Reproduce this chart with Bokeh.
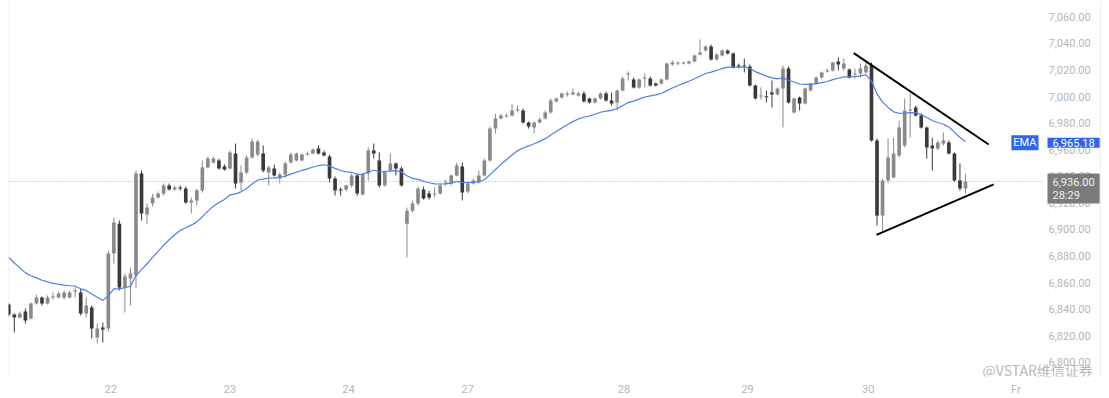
import numpy as np
from bokeh.plotting import figure
from bokeh.models import (Range1d, LinearAxis, FixedTicker, NumeralTickFormatter,
                          Span, Label, ColumnDataSource)
from bokeh.embed import file_html
from bokeh.resources import INLINE

# ---------------- data (hourly candles) ----------------
opens = [6843.4, 6835.9, 6833.7, 6838.2, 6832.9, 6844.2, 6848.7, 6844.2, 6848.7, 6848.7,
         6848.7, 6848.7, 6853.2, 6852.5, 6836.7, 6841.2, 6818.6, 6826.1, 6825.4, 6881.8,
         6904.3, 6856.2, 6863.0, 6865.3, 6942.0, 6911.1, 6919.4, 6923.9, 6926.9, 6933.0,
         6930.0, 6931.5, 6930.7, 6920.2, 6921.7, 6929.2, 6946.5, 6950.3, 6951.8, 6947.3,
         6945.8, 6957.1, 6935.2, 6942.8, 6954.1, 6956.3, 6957.1, 6942.8, 6945.8, 6938.2,
         6941.3, 6950.3, 6951.8, 6951.8, 6956.3, 6957.1, 6960.9, 6957.9, 6954.8, 6938.2,
         6930.0, 6930.0, 6933.0, 6940.5, 6926.2, 6942.0, 6959.4, 6951.8, 6933.0, 6944.3,
         6949.6, 6945.8, 6904.3, 6914.1, 6919.4, 6930.0, 6926.9, 6926.2, 6926.9, 6934.5,
         6934.5, 6940.5, 6947.3, 6928.5, 6934.5, 6935.2, 6940.5, 6951.8, 6975.9, 6983.4,
         6984.9, 6985.7, 6989.5, 6989.5, 6980.4, 6976.7, 6980.4, 6983.4, 6988.0, 6996.2,
         6999.2, 7001.5, 7001.5, 7000.8, 7002.3, 6998.5, 6995.5, 6998.5, 7002.3, 6997.0,
         6995.5, 7004.5, 7016.5, 7012.8, 7006.8, 7013.5, 7013.5, 7009.8, 7009.8, 7012.8,
         7024.1, 7024.8, 7024.8, 7024.8, 7026.3, 7031.6, 7034.6, 7037.6, 7027.9, 7030.9,
         7034.6, 7032.4, 7023.3, 7023.3, 7022.6, 7008.3, 7000.0, 7000.0, 7003.0, 7001.5,
         7006.0, 7021.1, 6988.0, 6999.2, 6994.7, 7004.5, 7009.8, 7014.3, 7018.8, 7019.6,
         7026.3, 7021.1, 7020.3, 7016.5, 7017.3, 7018.1, 7023.3, 6966.9, 6910.4, 6936.7,
         6939.0, 6955.6, 6963.1, 6989.5, 6991.7, 6985.7, 6976.7, 6963.1, 6960.9, 6964.6,
         6965.4, 6957.1, 6936.7, 6930.7]
highs = [6844.2, 6836.7, 6838.2, 6840.4, 6844.9, 6850.9, 6849.5, 6850.2, 6852.5, 6853.2,
         6854.0, 6854.0, 6856.2, 6855.5, 6848.7, 6842.7, 6829.1, 6829.9, 6884.1, 6908.9,
         6906.6, 6866.8, 6871.3, 6944.3, 6944.3, 6919.4, 6926.9, 6928.5, 6934.5, 6934.5,
         6933.0, 6933.0, 6932.2, 6923.9, 6930.7, 6951.8, 6954.8, 6954.8, 6953.3, 6948.8,
         6959.4, 6964.6, 6948.1, 6955.6, 6968.4, 6967.6, 6963.1, 6948.1, 6948.8, 6942.8,
         6951.1, 6957.9, 6957.9, 6957.1, 6958.6, 6960.9, 6963.1, 6959.4, 6956.3, 6939.8,
         6931.5, 6933.7, 6942.0, 6942.0, 6942.8, 6961.6, 6964.6, 6957.9, 6944.3, 6957.1,
         6950.3, 6947.3, 6916.4, 6921.7, 6932.2, 6932.2, 6929.2, 6931.5, 6934.5, 6937.5,
         6941.3, 6950.3, 6950.3, 6936.0, 6938.2, 6944.3, 6953.3, 6977.4, 6987.2, 6987.2,
         6987.2, 6994.7, 6993.2, 6991.0, 6981.2, 6981.2, 6984.2, 6989.5, 6998.5, 6999.2,
         7003.0, 7003.8, 7006.0, 7003.8, 7003.8, 6999.2, 6999.2, 7003.0, 7003.8, 7003.0,
         7005.3, 7015.0, 7018.8, 7014.3, 7013.5, 7017.3, 7015.0, 7010.5, 7013.5, 7025.6,
         7027.1, 7026.3, 7026.3, 7027.1, 7031.6, 7042.9, 7038.4, 7039.1, 7032.4, 7035.4,
         7035.4, 7033.1, 7024.8, 7028.6, 7024.1, 7009.0, 7006.8, 7004.5, 7012.0, 7006.8,
         7023.3, 7022.6, 6999.2, 7000.0, 7006.8, 7010.5, 7015.0, 7018.8, 7021.1, 7026.3,
         7029.4, 7028.6, 7021.1, 7021.1, 7024.8, 7025.6, 7025.6, 6968.4, 6938.2, 6968.4,
         6969.1, 6981.9, 6998.5, 7002.3, 6993.2, 6987.2, 6977.4, 6969.1, 6966.9, 6972.9,
         6966.9, 6957.9, 6949.6, 6942.0]
lows = [6834.4, 6822.4, 6832.9, 6829.1, 6832.2, 6843.4, 6842.7, 6843.4, 6847.2, 6848.0,
        6847.2, 6848.0, 6848.7, 6835.2, 6833.7, 6817.9, 6814.1, 6814.9, 6823.1, 6874.3,
        6854.0, 6837.4, 6842.7, 6855.5, 6906.6, 6904.3, 6917.1, 6923.2, 6925.4, 6929.2,
        6929.2, 6929.2, 6919.4, 6911.9, 6917.9, 6927.7, 6945.8, 6949.6, 6945.0, 6944.3,
        6945.0, 6930.7, 6929.2, 6941.3, 6953.3, 6954.8, 6942.8, 6933.0, 6939.8, 6934.5,
        6939.0, 6949.6, 6951.1, 6951.1, 6955.6, 6956.3, 6956.3, 6954.8, 6935.2, 6925.4,
        6925.4, 6928.5, 6931.5, 6925.4, 6925.4, 6936.7, 6953.3, 6931.5, 6932.2, 6942.8,
        6940.5, 6932.2, 6878.8, 6912.6, 6917.9, 6922.4, 6922.4, 6923.9, 6926.2, 6933.0,
        6933.0, 6939.8, 6921.7, 6926.9, 6933.7, 6934.5, 6939.8, 6951.1, 6972.1, 6982.7,
        6984.2, 6984.9, 6988.0, 6979.7, 6975.9, 6972.1, 6979.7, 6982.7, 6987.2, 6995.5,
        6998.5, 7000.0, 7000.8, 7000.0, 6995.5, 6994.7, 6994.7, 6997.7, 6996.2, 6993.2,
        6989.5, 7003.8, 7012.0, 7006.0, 7006.0, 7006.8, 7007.5, 7007.5, 7009.0, 7012.0,
        7023.3, 7023.3, 7024.1, 7024.1, 7025.6, 7030.9, 7033.9, 7027.1, 7027.1, 7030.1,
        7031.6, 7021.1, 7021.1, 7018.1, 7007.5, 6997.7, 6997.7, 6995.5, 6991.7, 7000.8,
        6976.7, 6994.7, 6987.2, 6989.5, 6994.0, 7003.8, 7009.0, 7013.5, 7018.1, 7018.8,
        7019.6, 7019.6, 7013.5, 7013.5, 7014.3, 7017.3, 6966.1, 6902.8, 6899.1, 6935.2,
        6938.2, 6954.1, 6961.6, 6969.1, 6984.9, 6975.9, 6953.3, 6944.3, 6959.4, 6963.1,
        6956.3, 6936.0, 6929.2, 6926.9]
closes = [6835.9, 6833.7, 6836.7, 6831.4, 6844.2, 6848.7, 6844.2, 6848.7, 6849.5, 6851.7,
          6852.5, 6852.5, 6854.0, 6836.7, 6842.7, 6825.4, 6825.4, 6824.6, 6881.8, 6905.1,
          6856.2, 6864.5, 6866.8, 6942.0, 6911.9, 6916.4, 6923.9, 6926.9, 6933.0, 6930.0,
          6931.5, 6930.7, 6920.2, 6921.7, 6929.2, 6946.5, 6953.3, 6953.3, 6945.8, 6945.0,
          6957.9, 6934.5, 6942.8, 6954.1, 6966.1, 6966.1, 6944.3, 6946.5, 6940.5, 6941.3,
          6949.6, 6956.3, 6957.1, 6956.3, 6957.1, 6960.1, 6957.1, 6955.6, 6938.2, 6929.2,
          6929.2, 6933.0, 6940.5, 6926.9, 6941.3, 6959.4, 6957.1, 6933.0, 6943.5, 6949.6,
          6945.8, 6933.0, 6914.1, 6919.4, 6930.7, 6923.2, 6923.9, 6926.9, 6933.0, 6935.2,
          6940.5, 6948.1, 6927.7, 6934.5, 6936.7, 6940.5, 6951.8, 6975.9, 6983.4, 6985.7,
          6985.7, 6989.5, 6990.2, 6980.4, 6977.4, 6980.4, 6982.7, 6988.0, 6997.0, 6998.5,
          7002.3, 7001.9, 7003.0, 7002.3, 6996.2, 6995.5, 6998.5, 7002.3, 6997.0, 6994.7,
          7004.5, 7013.5, 7017.3, 7006.8, 7012.8, 7014.3, 7008.3, 7008.3, 7012.8, 7024.8,
          7025.6, 7025.6, 7025.6, 7026.3, 7030.9, 7033.1, 7037.6, 7027.9, 7031.6, 7034.6,
          7032.4, 7021.8, 7022.6, 7022.6, 7008.3, 6998.5, 7000.8, 6999.6, 7001.5, 7006.0,
          7021.1, 6995.5, 6998.5, 6994.7, 7006.0, 7009.8, 7014.3, 7018.1, 7019.6, 7025.6,
          7024.1, 7024.8, 7014.3, 7017.3, 7021.1, 7023.3, 6966.9, 6910.4, 6936.7, 6954.1,
          6957.1, 6976.7, 6989.5, 6990.2, 6985.7, 6976.7, 6961.6, 6960.9, 6965.4, 6966.9,
          6957.1, 6936.7, 6930.7, 6936.0]

day_ticks = [18.44, 40.0, 61.43, 82.98, 111.25, 133.6, 155.4, 182.1]
day_labels = ["22", "23", "24", "27", "28", "29", "30", "Fr"]
price_ticks = [6800, 6820, 6840, 6860, 6880, 6900, 6920, 6940, 6960, 6980, 7000, 7020, 7040, 7060]

ema_period = 20
ema_seed = 6883.5
ema_last_label = 6965.18
last_price = 6936.00
countdown = "28:29"

# triangle trend lines (bar index, price)
upper_x = [152.8, 177.2]
upper_y = [7032.6, 6963.9]
lower_x = [156.9, 178.1]
lower_y = [6895.9, 6933.8]

# ---------------- derived ----------------
n = len(closes)
xs = np.arange(n)
o = np.array(opens); c = np.array(closes)
alpha = 2.0 / (ema_period + 1)
ema = []
e = ema_seed
for v in closes:
    e = e + alpha * (v - e)
    ema.append(e)

UP = "#8a8a8a"
DOWN = "#3a3a3a"
colors = [UP if cc >= oo else DOWN for oo, cc in zip(opens, closes)]
top = np.maximum(o, c)
bot = np.minimum(o, c)
mid = (top + bot) / 2
small = (top - bot) < 0.7
top = np.where(small, mid + 0.35, top)
bot = np.where(small, mid - 0.35, bot)

src = ColumnDataSource(dict(x=xs, high=highs, low=lows, top=top, bot=bot, color=colors))

# layout: frame spans x 8..1102 px, y 0..376 px; price scale column starts at 1041 px
LEFT, RIGHT_B, BOTTOM_B = 8, 7, 22
FRAME_W = 1109 - LEFT - RIGHT_B
BAR_PX = 5.53
X0 = -0.054
X1 = X0 + FRAME_W / BAR_PX
XA = X0 + (1041 - LEFT) / BAR_PX      # where the price scale column begins
XB = X0 + (1100 - LEFT) / BAR_PX      # faint right border
Y0, Y1 = 6789.25, 7072.26

p = figure(width=1109, height=398, output_backend="svg", toolbar_location=None,
           x_range=Range1d(X0, X1), y_range=Range1d(Y0, Y1),
           min_border_left=LEFT, min_border_right=RIGHT_B, min_border_top=0,
           min_border_bottom=BOTTOM_B, x_axis_location=None, y_axis_location=None)
p.outline_line_color = None
p.background_fill_color = "white"
p.border_fill_color = "white"
p.xgrid.visible = False
p.ygrid.visible = False

AX_COLOR = "#b6b6b6"
yax = LinearAxis(ticker=FixedTicker(ticks=price_ticks, minor_ticks=[]),
                 formatter=NumeralTickFormatter(format="0,0.00"))
xax = LinearAxis(ticker=FixedTicker(ticks=day_ticks, minor_ticks=[]),
                 major_label_overrides={t: l for t, l in zip(day_ticks, day_labels)})
# price labels sit inside the right part of the frame (negative standoff)
for ax, st in ((yax, 1048 - (1109 - RIGHT_B)), (xax, 6)):
    ax.axis_line_color = None
    ax.major_tick_line_color = None
    ax.minor_tick_line_color = None
    ax.major_tick_out = 0
    ax.major_tick_in = 0
    ax.minor_tick_out = 0
    ax.major_label_text_color = AX_COLOR
    ax.major_label_text_font = "Roboto"
    ax.major_label_text_font_size = "11px"
    ax.major_label_standoff = st
p.add_layout(yax, "right")
p.add_layout(xax, "below")

p.add_layout(Span(location=0, dimension="height", line_color="#ececec", line_width=1, level="underlay"))
p.add_layout(Span(location=XB, dimension="height", line_color="#f0f0f0", line_width=1, level="underlay"))
p.segment(x0=[X0], y0=[last_price], x1=[XA], y1=[last_price], line_color="#a8a8a8",
          line_width=1, line_dash="1 2")

p.segment(x0="x", y0="low", x1="x", y1="high", color="color", line_width=1, source=src)
p.vbar(x="x", width=0.66, top="top", bottom="bot", fill_color="color", line_color=None, source=src)

p.line(xs, ema, color="#4f7fe6", line_width=1.2)

p.line(upper_x, upper_y, color="black", line_width=2)
p.line(lower_x, lower_y, color="black", line_width=2)

has_pad = "padding" in Label.properties()


def box_label(text, y, x_off, y_off, align, bg, baseline="middle", pad=(5, 1), tcolor="white"):
    kw = dict(x=XA, y=y, x_units="data", y_units="data", text=text, x_offset=x_off, y_offset=y_off,
              text_align=align, text_baseline=baseline, text_color=tcolor,
              text_font="Roboto", text_font_size="11px", text_line_height=1.0,
              background_fill_color=bg, background_fill_alpha=1.0, level="overlay")
    if has_pad:
        kw["padding"] = pad
    return Label(**kw)


p.add_layout(box_label(f"{ema_last_label:,.2f}", ema_last_label, 6, 0, "left", "#2e66f2"))
p.add_layout(box_label("EMA", ema_last_label, -3, 0, "right", "#2e66f2", pad=(2, 1)))
p.add_layout(box_label(f"{last_price:,.2f}\n{countdown}", last_price, 6, 8.0, "left", "#7b7b7b",
                       baseline="top", pad=(5, 2), tcolor="#f0f0f0"))

p.add_layout(Label(x=XA, y=Y0, x_units="data", y_units="data", text="@VSTAR维信证券",
                   x_offset=-59, y_offset=7, text_align="left", text_baseline="middle",
                   text_font="Noto Sans CJK SC", text_font_size="14px", text_color="#b8b8b8",
                   level="overlay"))

open("out.html", "w").write(file_html(p, INLINE))
